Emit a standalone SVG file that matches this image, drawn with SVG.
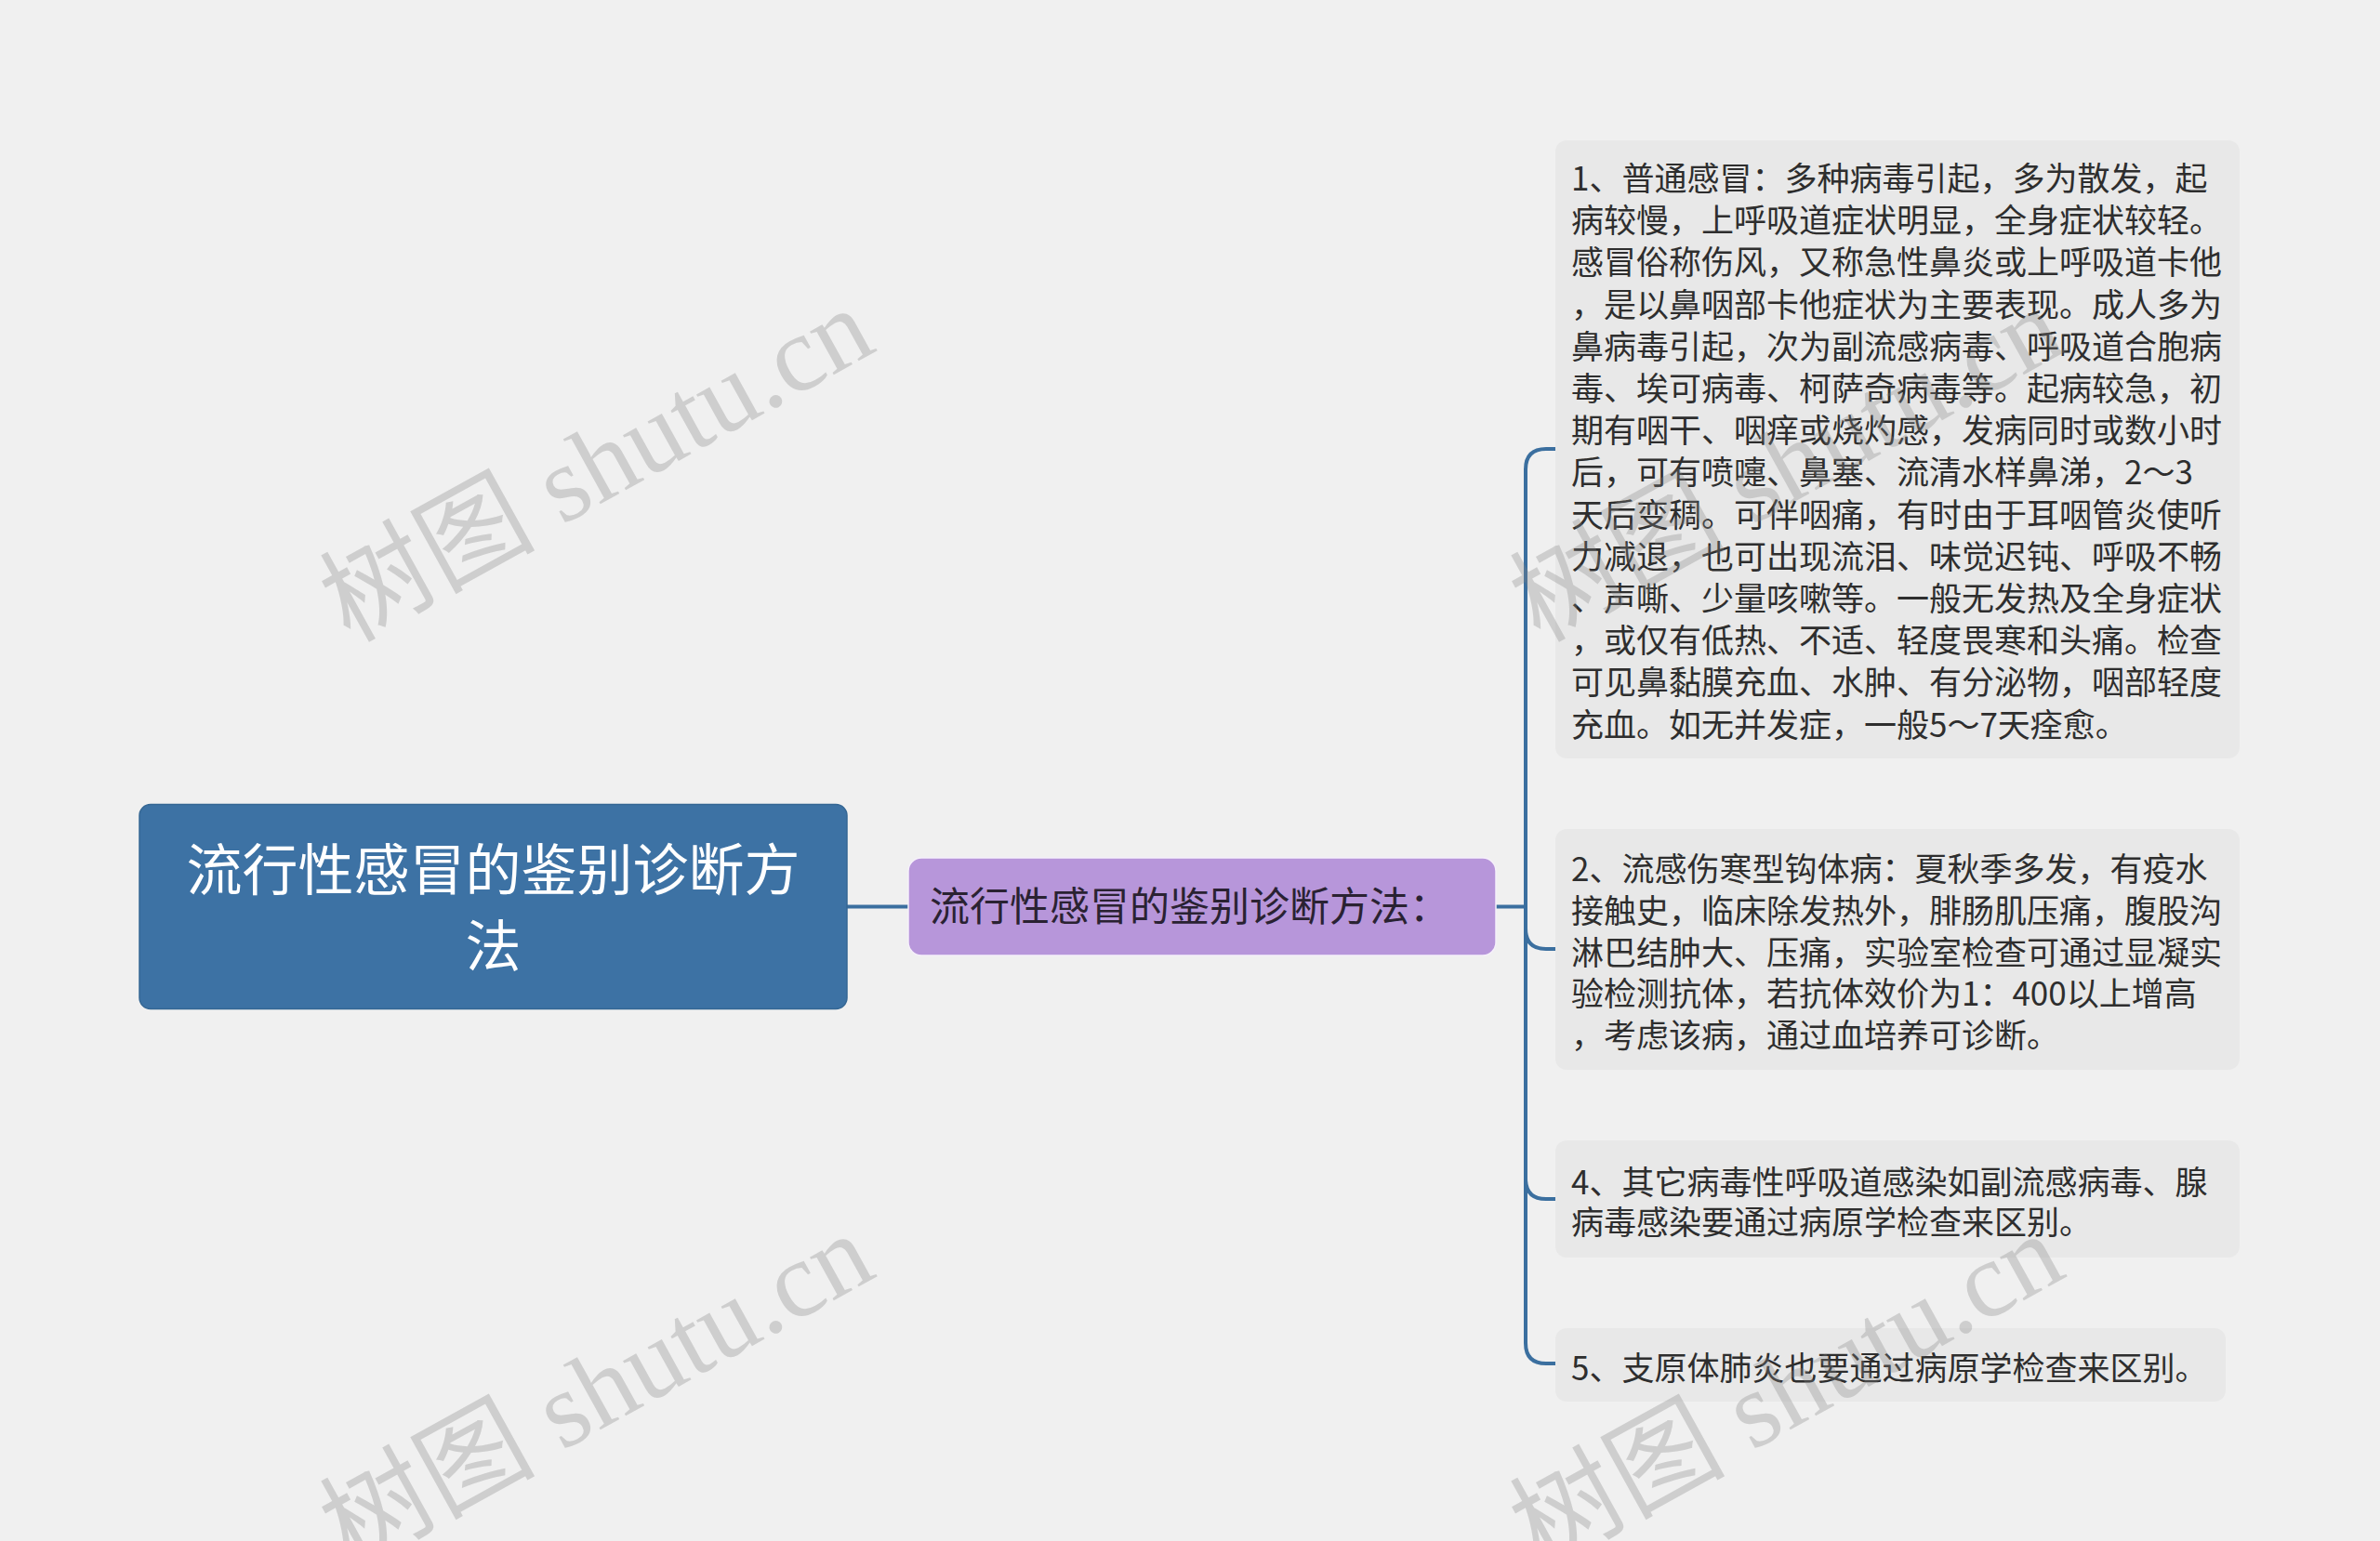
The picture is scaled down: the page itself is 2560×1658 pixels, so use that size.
<svg xmlns="http://www.w3.org/2000/svg" width="2560" height="1658" viewBox="0 0 2560 1658">
<style>
.bg{fill:#f0f0f0}
.leaf{fill:#e8e8e8}
.lt{font-family:"Noto Sans CJK SC","Noto Sans",sans-serif;font-size:35px;fill:#2e2e2e}
.conn{fill:none;stroke:#3b6f9f;stroke-width:4;stroke-linecap:butt}
.wm{font-family:"Liberation Serif","Noto Sans CJK SC",serif;font-size:116px;fill:#808080;fill-opacity:0.3}
</style>
<rect class="bg" x="0" y="0" width="2560" height="1658"/>
<g id="connectors">
<path class="conn" d="M911,975.5 H978"/>
<path class="conn" d="M1609,975.5 H1641"/>
<path class="conn" d="M1673,483 H1663 Q1641,483 1641,505 V1445 Q1641,1467 1663,1467 H1673"/>
<path class="conn" d="M1641,999 Q1641,1021 1663,1021 H1673"/>
<path class="conn" d="M1641,1268 Q1641,1290 1663,1290 H1673"/>
</g>
<g id="root">
<rect x="150" y="865.5" width="761" height="220" rx="12" fill="#3d72a4" stroke="#356794" stroke-width="1.5"/>
<text font-family="Noto Sans CJK SC,sans-serif" font-size="60" fill="#ffffff" text-anchor="middle"><tspan x="530.5" y="958">流行性感冒的鉴别诊断方</tspan><tspan x="530.5" y="1040">法</tspan></text>
</g>
<g id="main">
<rect x="977" y="923" width="632" height="105" rx="14" fill="#b796da" stroke="#f5f0fa" stroke-width="1.5"/>
<text x="1000" y="991" font-family="Noto Sans CJK SC,sans-serif" font-size="43" fill="#2a2232">流行性感冒的鉴别诊断方法：</text>
</g>
<g id="leaf1">
<rect class="leaf" x="1673" y="151" width="736" height="665" rx="12"/>
<text class="lt"><tspan x="1690" y="205">1、普通感冒：多种病毒引起，多为散发，起</tspan><tspan x="1690" y="250.2">病较慢，上呼吸道症状明显，全身症状较轻。</tspan><tspan x="1690" y="295.4">感冒俗称伤风，又称急性鼻炎或上呼吸道卡他</tspan><tspan x="1690" y="340.6">，是以鼻咽部卡他症状为主要表现。成人多为</tspan><tspan x="1690" y="385.8">鼻病毒引起，次为副流感病毒、呼吸道合胞病</tspan><tspan x="1690" y="431">毒、埃可病毒、柯萨奇病毒等。起病较急，初</tspan><tspan x="1690" y="476.2">期有咽干、咽痒或烧灼感，发病同时或数小时</tspan><tspan x="1690" y="521.4">后，可有喷嚏、鼻塞、流清水样鼻涕，2～3</tspan><tspan x="1690" y="566.6">天后变稠。可伴咽痛，有时由于耳咽管炎使听</tspan><tspan x="1690" y="611.8">力减退，也可出现流泪、味觉迟钝、呼吸不畅</tspan><tspan x="1690" y="657">、声嘶、少量咳嗽等。一般无发热及全身症状</tspan><tspan x="1690" y="702.2">，或仅有低热、不适、轻度畏寒和头痛。检查</tspan><tspan x="1690" y="747.4">可见鼻黏膜充血、水肿、有分泌物，咽部轻度</tspan><tspan x="1690" y="792.6">充血。如无并发症，一般5～7天痊愈。</tspan></text>
</g>
<g id="leaf2">
<rect class="leaf" x="1673" y="892" width="736" height="259" rx="12"/>
<text class="lt"><tspan x="1690" y="948">2、流感伤寒型钩体病：夏秋季多发，有疫水</tspan><tspan x="1690" y="992.8">接触史，临床除发热外，腓肠肌压痛，腹股沟</tspan><tspan x="1690" y="1037.6">淋巴结肿大、压痛，实验室检查可通过显凝实</tspan><tspan x="1690" y="1082.4">验检测抗体，若抗体效价为1：400以上增高</tspan><tspan x="1690" y="1127.2">，考虑该病，通过血培养可诊断。</tspan></text>
</g>
<g id="leaf4">
<rect class="leaf" x="1673" y="1227" width="736" height="126" rx="12"/>
<text class="lt"><tspan x="1690" y="1285">4、其它病毒性呼吸道感染如副流感病毒、腺</tspan><tspan x="1690" y="1328">病毒感染要通过病原学检查来区别。</tspan></text>
</g>
<g id="leaf5">
<rect class="leaf" x="1673" y="1429" width="721" height="79" rx="12"/>
<text class="lt" x="1690" y="1485">5、支原体肺炎也要通过病原学检查来区别。</text>
</g>
<g id="watermarks">
<text class="wm" transform="translate(376,692) rotate(-29)">树图 shutu.cn</text>
<text class="wm" transform="translate(376,1688) rotate(-29)">树图 shutu.cn</text>
<text class="wm" transform="translate(1656,692) rotate(-29)">树图 shutu.cn</text>
<text class="wm" transform="translate(1656,1688) rotate(-29)">树图 shutu.cn</text>
</g>
</svg>
